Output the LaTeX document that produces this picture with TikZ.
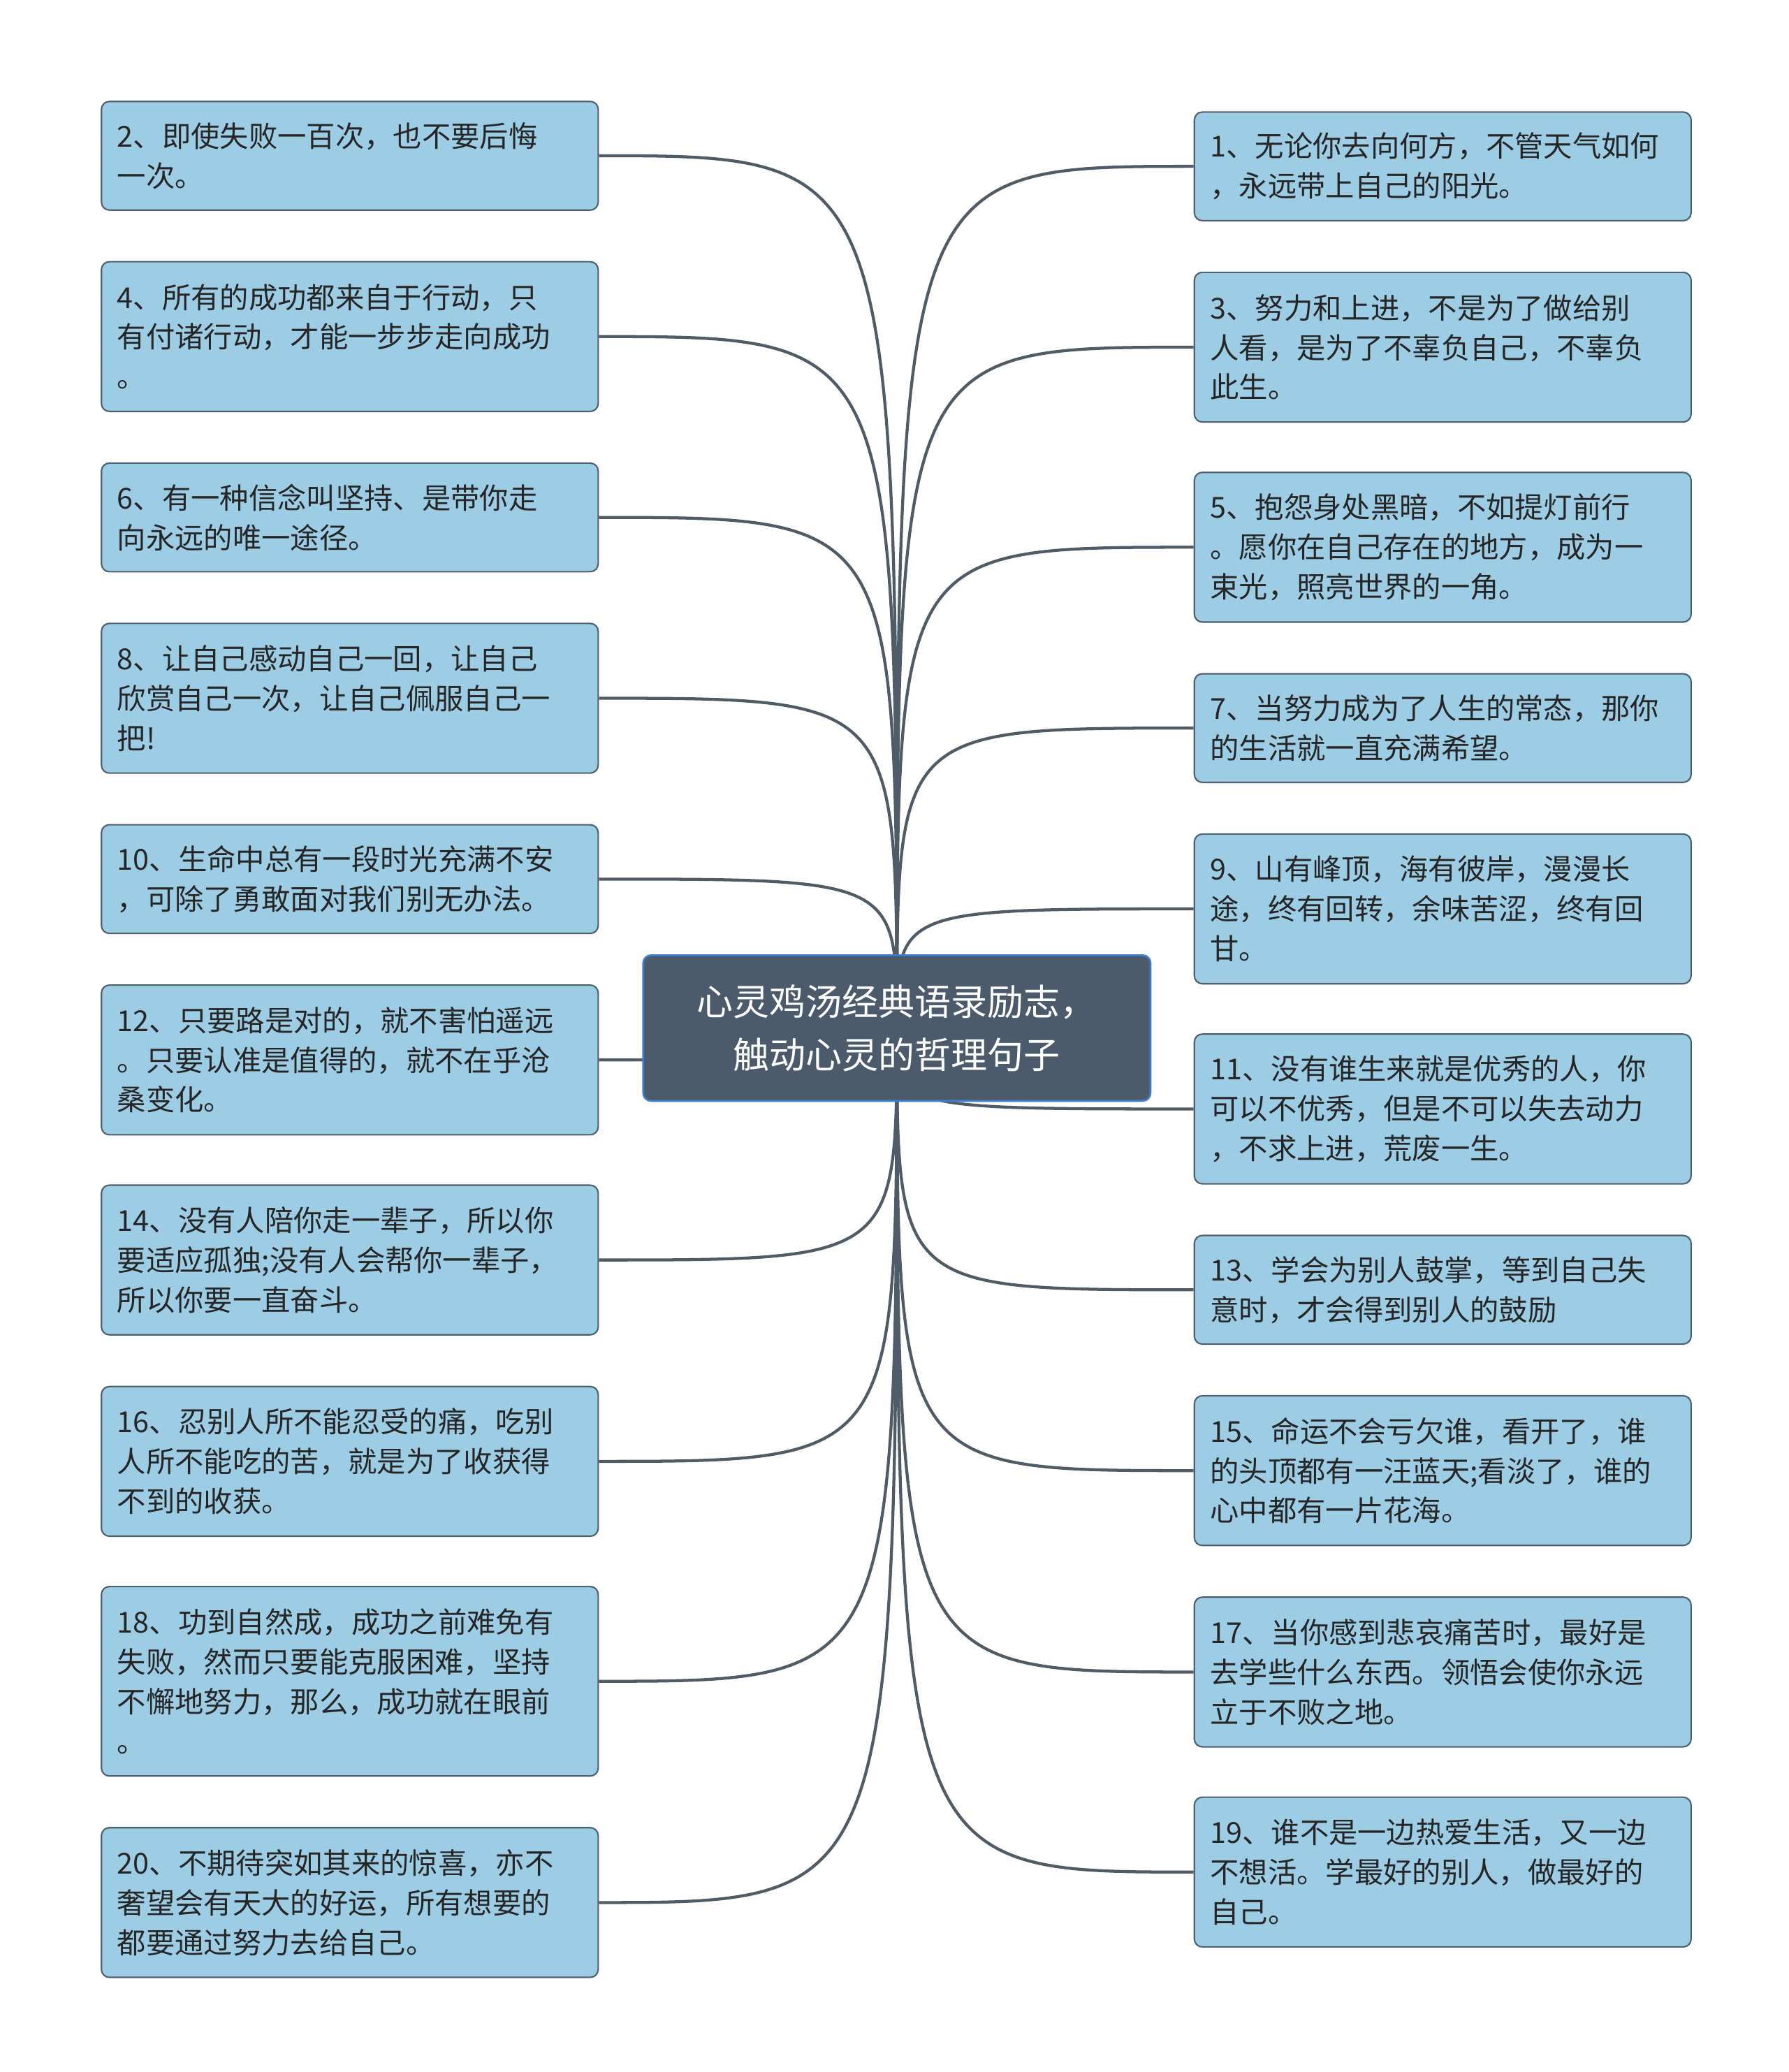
\documentclass[tikz,border=0pt]{standalone}
\usepackage{fontspec}
\setmainfont{Noto Sans CJK SC}
\definecolor{leaffill}{HTML}{9DCDE5}
\definecolor{leafline}{HTML}{4E6170}
\definecolor{rootfill}{HTML}{4B5B6B}
\definecolor{rootline}{HTML}{3D7FD6}
\definecolor{wire}{HTML}{4F5B66}
\tikzset{
  leaf/.style={draw=leafline, line width=1.6pt, fill=leaffill, rounded corners=0.3cm,
    anchor=north west, text width=17.55cm, inner xsep=0.6cm, inner ysep=0.2cm,
    align=left, font=\fontsize{31pt}{42.7pt}\selectfont, text=black!85},
  rootbox/.style={draw=rootline, line width=2pt, fill=rootfill, rounded corners=0.3cm,
    minimum width=19.15cm, minimum height=5.5cm, align=center, text=white,
    font=\fontsize{39pt}{57pt}\selectfont},
  wires/.style={draw=wire, line width=3.2pt}
}
\begin{document}
\begin{tikzpicture}[x=0.05cm, y=-0.05cm]
  \useasboundingbox (0,0) rectangle (1350,1564);
  % left column
  \node[leaf, minimum height=4.1cm]  (l1)  at (76,76)   {2、即使失败一百次，也不要后悔\\一次。};
  \node[leaf, minimum height=5.65cm] (l2)  at (76,197)  {4、所有的成功都来自于行动，只\\有付诸行动，才能一步步走向成功\\。};
  \node[leaf, minimum height=4.1cm]  (l3)  at (76,349)  {6、有一种信念叫坚持、是带你走\\向永远的唯一途径。};
  \node[leaf, minimum height=5.65cm] (l4)  at (76,470)  {8、让自己感动自己一回，让自己\\欣赏自己一次，让自己佩服自己一\\把!};
  \node[leaf, minimum height=4.1cm]  (l5)  at (76,622)  {10、生命中总有一段时光充满不安\\，可除了勇敢面对我们别无办法。};
  \node[leaf, minimum height=5.65cm] (l6)  at (76,743)  {12、只要路是对的，就不害怕遥远\\。只要认准是值得的，就不在乎沧\\桑变化。};
  \node[leaf, minimum height=5.65cm] (l7)  at (76,894)  {14、没有人陪你走一辈子，所以你\\要适应孤独;没有人会帮你一辈子，\\所以你要一直奋斗。};
  \node[leaf, minimum height=5.65cm] (l8)  at (76,1046) {16、忍别人所不能忍受的痛，吃别\\人所不能吃的苦，就是为了收获得\\不到的收获。};
  \node[leaf, minimum height=7.15cm] (l9)  at (76,1197) {18、功到自然成，成功之前难免有\\失败，然而只要能克服困难，坚持\\不懈地努力，那么，成功就在眼前\\。};
  \node[leaf, minimum height=5.65cm] (l10) at (76,1379) {20、不期待突如其来的惊喜，亦不\\奢望会有天大的好运，所有想要的\\都要通过努力去给自己。};
  % right column
  \node[leaf, minimum height=4.1cm]  (r1)  at (901,84)   {1、无论你去向何方，不管天气如何\\，永远带上自己的阳光。};
  \node[leaf, minimum height=5.65cm] (r2)  at (901,205)  {3、努力和上进，不是为了做给别\\人看，是为了不辜负自己，不辜负\\此生。};
  \node[leaf, minimum height=5.65cm] (r3)  at (901,356)  {5、抱怨身处黑暗，不如提灯前行\\。愿你在自己存在的地方，成为一\\束光，照亮世界的一角。};
  \node[leaf, minimum height=4.1cm]  (r4)  at (901,508)  {7、当努力成为了人生的常态，那你\\的生活就一直充满希望。};
  \node[leaf, minimum height=5.65cm] (r5)  at (901,629)  {9、山有峰顶，海有彼岸，漫漫长\\途，终有回转，余味苦涩，终有回\\甘。};
  \node[leaf, minimum height=5.65cm] (r6)  at (901,780)  {11、没有谁生来就是优秀的人，你\\可以不优秀，但是不可以失去动力\\，不求上进，荒废一生。};
  \node[leaf, minimum height=4.1cm]  (r7)  at (901,932)  {13、学会为别人鼓掌，等到自己失\\意时，才会得到别人的鼓励};
  \node[leaf, minimum height=5.65cm] (r8)  at (901,1053) {15、命运不会亏欠谁，看开了，谁\\的头顶都有一汪蓝天;看淡了，谁的\\心中都有一片花海。};
  \node[leaf, minimum height=5.65cm] (r9)  at (901,1205) {17、当你感到悲哀痛苦时，最好是\\去学些什么东西。领悟会使你永远\\立于不败之地。};
  \node[leaf, minimum height=5.65cm] (r10) at (901,1356) {19、谁不是一边热爱生活，又一边\\不想活。学最好的别人，做最好的\\自己。};
  % connectors
  \coordinate (hub) at (677,776);
  \foreach \n in {l1,l2,l3,l4,l5,l6,l7,l8,l9,l10}
    \draw[wires] (hub) .. controls (hub |- \n.east) .. (\n.east);
  \foreach \n in {r1,r2,r3,r4,r5,r6,r7,r8,r9,r10}
    \draw[wires] (hub) .. controls (hub |- \n.west) .. (\n.west);
  % root
  \node[rootbox] (root) at (677,776) {心灵鸡汤经典语录励志，\\触动心灵的哲理句子};
\end{tikzpicture}
\end{document}
